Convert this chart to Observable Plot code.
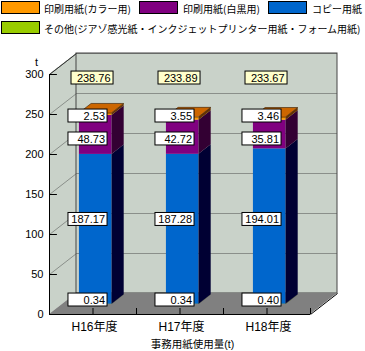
<!DOCTYPE html>
<html><head><meta charset="utf-8">
<script src="https://cdn.jsdelivr.net/npm/d3@7"></script>
<script src="https://cdn.jsdelivr.net/npm/@observablehq/plot@0.6"></script>
<style>
body{margin:0;background:#fff;}
#legend{position:relative;width:365px;height:40px;font-family:"Noto Sans CJK JP",sans-serif;font-size:10px;color:#000;}
#legend .sw{position:absolute;width:37px;height:11px;border:1px solid #000;}
#legend .lb{position:absolute;line-height:13px;white-space:nowrap;}
</style></head>
<body>
<div id="legend"></div>
<div id="chart"></div>
<script>
// ---- data ----
const categories = ["H16年度", "H17年度", "H18年度"];
const otherVals = [0.34, 0.34, 0.40];     // その他
const copyVals = [187.17, 187.28, 194.01]; // コピー用紙
const monoVals = [48.73, 42.72, 35.81];    // 印刷用紙(白黒用)
const colorVals = [2.53, 3.55, 3.46];      // 印刷用紙(カラー用)
const totalVals = [238.76, 233.89, 233.67];
const yTicks = [0, 50, 100, 150, 200, 250, 300];
const seriesNames = ["その他(ジアゾ感光紙・インクジェットプリンター用紙・フォーム用紙)", "コピー用紙", "印刷用紙(白黒用)", "印刷用紙(カラー用)"];
const yTitle = "t";
const xTitle = "事務用紙使用量(t)";

// ---- styles ----
const seriesStyle = [
  {vals: otherVals, front: "#99cc00", side: "#334400", row: 18.1},
  {vals: copyVals, front: "#0066cc", side: "#000033", row: 118.8},
  {vals: monoVals, front: "#800080", side: "#330033", row: 219.4},
  {vals: colorVals, front: "#ff9900", side: "#663300", row: 248.1}
];
const totalRow = 295.6;

// legend (HTML)
const legend = document.getElementById("legend");
const legItems = [
  {name: seriesNames[3], c: seriesStyle[3].front, sx: 1, sy: 1, tx: 44},
  {name: seriesNames[2], c: seriesStyle[2].front, sx: 139, sy: 1, tx: 183},
  {name: seriesNames[1], c: seriesStyle[1].front, sx: 268, sy: 1, tx: 312},
  {name: seriesNames[0], c: seriesStyle[0].front, sx: 1, sy: 21, tx: 44}
];
for (const it of legItems) {
  const s = document.createElement("div");
  s.className = "sw"; s.style.left = it.sx + "px"; s.style.top = it.sy + "px"; s.style.background = it.c;
  legend.appendChild(s);
  const l = document.createElement("div");
  l.className = "lb"; l.style.left = it.tx + "px"; l.style.top = (it.sy + 1) + "px"; l.textContent = it.name;
  legend.appendChild(l);
}

// ---- 3D projection helpers ----
const DX = 27 / 87;   // depth shift in category units
const DY = 26.25;     // depth shift in value units
const D1 = 0.48, D2 = 0.93; // bar front/back depth
const BX0 = 0.195, BX1 = 0.57;
const YMAX = 300, NC = categories.length;

const segs = [];
categories.forEach((c, i) => {
  let cum = 0;
  seriesStyle.forEach((s, j) => {
    const v = s.vals[i];
    segs.push({k: i + "-" + j, i, lo: cum, hi: cum + v, front: s.front, side: s.side});
    cum += v;
  });
});
const tops = categories.map((c, i) => seriesStyle.reduce((a, s) => a + s.vals[i], 0));

const sideData = segs.flatMap(s => [
  {k: s.k, x: s.i + BX1 + D1 * DX, y1: s.lo + D1 * DY, y2: s.hi + D1 * DY, c: s.side},
  {k: s.k, x: s.i + BX1 + D2 * DX, y1: s.lo + D2 * DY, y2: s.hi + D2 * DY, c: s.side}
]);
const topData = tops.flatMap((t, i) => [
  {k: i, y: t + D1 * DY, x1: i + BX0 + D1 * DX, x2: i + BX1 + D1 * DX},
  {k: i, y: t + D2 * DY, x1: i + BX0 + D2 * DX, x2: i + BX1 + D2 * DX}
]);
const floorData = [{y: 0, x1: 0, x2: NC}, {y: DY, x1: DX, x2: NC + DX}];
const wallData = [{x: 0, y1: 0, y2: YMAX}, {x: DX, y1: DY, y2: YMAX + DY}];
const gridVals = yTicks.filter(v => v > 0);

const labels = [];
categories.forEach((c, i) => seriesStyle.forEach(s => labels.push({i, y: s.row, t: s.vals[i].toFixed(2)})));
const totals = totalVals.map((v, i) => ({i, y: totalRow, t: v.toFixed(2)}));
const BH = 8.1;
const xTickVals = d3.range(1, NC * 2 + 1).map(k => k / 2);

const font = "'Liberation Sans', Arial, 'Noto Sans CJK JP', sans-serif";
const chart = Plot.plot({
  width: 365, height: 311, margin: 0,
  style: {fontFamily: font, fontSize: "11px", background: "#fff", color: "#000"},
  x: {domain: [0, NC], range: [49, 310], axis: null},
  y: {domain: [0, YMAX], range: [274, 34], axis: null},
  color: {type: "identity"},
  marks: [
    // back wall
    Plot.rect([0], {x1: DX, x2: NC + DX, y1: DY, y2: YMAX + DY, fill: "#c9d2c9"}),
    Plot.ruleY(gridVals, {y: d => d + DY, x1: DX, x2: NC + DX, stroke: "#8a8f8a", strokeWidth: 1.2}),
    // left wall
    Plot.areaY(wallData, {x: "x", y1: "y1", y2: "y2", fill: "#c9d2c9"}),
    Plot.link(gridVals, {x1: 0, y1: d => d, x2: DX, y2: d => d + DY, stroke: "#8a8f8a", strokeWidth: 1}),
    Plot.rect([0], {x1: DX, x2: NC + DX, y1: DY, y2: YMAX + DY, fill: "none", stroke: "#444", strokeWidth: 1}),
    Plot.link([0], {x1: 0, y1: YMAX, x2: DX, y2: YMAX + DY, stroke: "#333"}),
    // floor
    Plot.areaX(floorData, {y: "y", x1: "x1", x2: "x2", fill: "#808080"}),
    Plot.link([0], {x1: NC, y1: 0, x2: NC + DX, y2: DY, stroke: "#000"}),
    Plot.ruleY([0], {x1: 0, x2: NC, stroke: "#000"}),
    Plot.ruleX(xTickVals, {x: d => d, y1: 0, y2: 7.5, stroke: "#000"}),
    // bars
    Plot.rect(segs, {x1: d => d.i + BX0 + D1 * DX, x2: d => d.i + BX1 + D1 * DX, y1: d => d.lo + D1 * DY, y2: d => d.hi + D1 * DY, fill: "front"}),
    Plot.areaY(sideData, {x: "x", y1: "y1", y2: "y2", z: "k", fill: "c"}),
    Plot.areaX(topData, {y: "y", x1: "x1", x2: "x2", z: "k", fill: "#cc6600", stroke: "#331a00", strokeWidth: 0.6}),
    // y axis
    Plot.ruleX([0], {y1: 0, y2: YMAX, stroke: "#000"}),
    Plot.link(yTicks, {x1: 0, x2: 0.085, y1: d => d, y2: d => d, stroke: "#000"}),
    Plot.text(yTicks, {x: 0, y: d => d, text: d => String(d), textAnchor: "end", dx: -6, fontSize: 11}),
    Plot.text([yTitle], {x: 0, y: YMAX, text: d => d, dx: -13, dy: -12, fontSize: 11}),
    // x axis labels
    Plot.text(categories, {x: (d, i) => i + 0.5, y: 0, text: d => d, dy: 12.5, dx: 1.5, fontSize: 12}),
    Plot.text([xTitle], {frameAnchor: "bottom", text: d => d, dx: 9.5, dy: -4, fontSize: 10.5}),
    // value labels
    Plot.rect(labels, {x1: d => d.i + 0.218, x2: d => d.i + 0.667, y1: d => d.y - BH, y2: d => d.y + BH, fill: "#fff", stroke: "#000", strokeWidth: 1}),
    Plot.text(labels, {x: d => d.i + 0.667, y: "y", text: "t", textAnchor: "end", dx: -2.5, dy: 0.5, fontSize: 11}),
    Plot.rect(totals, {x1: d => d.i + 0.253, x2: d => d.i + 0.736, y1: d => d.y - BH, y2: d => d.y + BH, fill: "#ffffcc", stroke: "#000", strokeWidth: 1}),
    Plot.text(totals, {x: d => d.i + 0.736, y: "y", text: "t", textAnchor: "end", dx: -3, dy: 0.5, fontSize: 11})
  ]
});
document.getElementById("chart").appendChild(chart);
</script>
</body></html>
